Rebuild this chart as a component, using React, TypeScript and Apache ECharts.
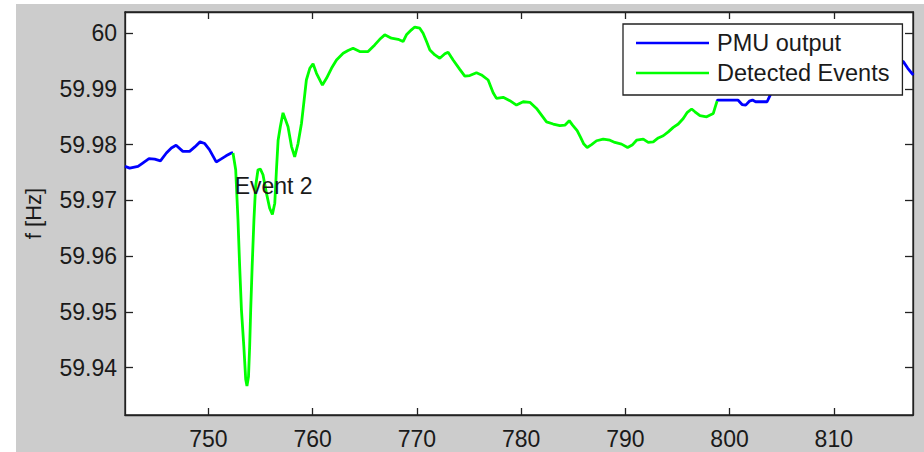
import React, { useEffect, useRef } from "react";
import * as echarts from "echarts";

// time [s]
const times = [
  742.0, 742.45, 743.25, 743.7, 744.3, 744.85, 745.4, 745.97, 746.45, 746.9,
  747.55, 748.2, 748.7, 749.2, 749.65, 750.1, 750.75, 751.2, 751.7, 752.2,
  752.36, 752.62, 752.84, 753.0, 753.17, 753.4, 753.58, 753.7, 753.85, 753.96,
  754.06, 754.2, 754.37, 754.53, 754.76, 754.99, 755.24, 755.57, 755.88, 756.14,
  756.37, 756.53, 756.69, 756.9, 757.16, 757.64, 757.97, 758.28, 758.6, 758.93,
  759.15, 759.4, 759.73, 760.04, 760.37, 760.94, 761.33, 761.81, 762.29, 762.93,
  763.4, 763.88, 764.52, 765.32, 765.96, 766.44, 766.92, 767.56, 768.2, 768.68,
  769.0, 769.48, 769.8, 770.28, 770.6, 770.93, 771.25, 771.73, 772.2, 772.69,
  773.0, 773.48, 774.12, 774.6, 775.08, 775.72, 776.2, 776.84, 777.32, 777.64,
  778.28, 778.92, 779.56, 780.2, 780.84, 781.48, 781.96, 782.44, 783.08, 783.72,
  784.2, 784.62, 784.94, 785.38, 785.71, 786.02, 786.34, 786.76, 787.24, 787.88,
  788.52, 789.0, 789.64, 790.22, 790.7, 791.08, 791.72, 792.2, 792.68, 793.16,
  793.64, 794.12, 794.6, 795.08, 795.56, 795.95, 796.36, 796.68, 797.16, 797.8,
  798.44, 798.6, 798.8, 798.85, 800.8, 801.2, 801.55, 801.9, 802.2, 802.5,
  803.6, 803.8, 804.0, 805.0, 806.0, 807.0, 808.0, 809.0, 810.0, 811.0,
  812.0, 813.0, 814.0, 815.0, 816.0, 816.67, 817.1, 817.63,
];

// frequency [Hz]
const freqs = [
  59.9761, 59.9758, 59.9761, 59.9767, 59.9775, 59.9774, 59.9771, 59.9785, 59.9794, 59.9799,
  59.9788, 59.9788, 59.9796, 59.9805, 59.9802, 59.9791, 59.9769, 59.9774, 59.978, 59.9785,
  59.9785, 59.9755, 59.9665, 59.9582, 59.9504, 59.9438, 59.9379, 59.9367, 59.9384, 59.9438,
  59.9504, 59.9582, 59.9665, 59.9725, 59.9755, 59.9756, 59.9746, 59.9713, 59.9686, 59.9675,
  59.9695, 59.9755, 59.9808, 59.9832, 59.9857, 59.9832, 59.9797, 59.9778, 59.9802, 59.9838,
  59.9874, 59.9916, 59.9937, 59.9945, 59.9928, 59.9907, 59.9919, 59.9937, 59.9952, 59.9964,
  59.9969, 59.9973, 59.9967, 59.9967, 59.9979, 59.9989, 59.9997, 59.9991, 59.9989, 59.9985,
  59.9997, 60.0006, 60.0011, 60.0009, 60.0, 59.9985, 59.997, 59.9961, 59.9955, 59.9963,
  59.9966, 59.9952, 59.9935, 59.9923, 59.9924, 59.9929, 59.9925, 59.9916, 59.9893, 59.9883,
  59.9885, 59.9879, 59.9871, 59.9877, 59.9876, 59.9865, 59.9853, 59.9841, 59.9837, 59.9834,
  59.9835, 59.9843, 59.9835, 59.9825, 59.9813, 59.9801, 59.9795, 59.98, 59.9807, 59.981,
  59.9808, 59.9804, 59.9801, 59.9795, 59.98, 59.9808, 59.981, 59.9804, 59.9805, 59.9812,
  59.9816, 59.9823, 59.9831, 59.9837, 59.9847, 59.9858, 59.9864, 59.9859, 59.9852, 59.985,
  59.9856, 59.9866, 59.9878, 59.988, 59.988, 59.9872, 59.9871, 59.9878, 59.988, 59.9877,
  59.9877, 59.9885, 59.9893, 59.9905, 59.9912, 59.9921, 59.9928, 59.9926, 59.9934, 59.9941,
  59.9939, 59.9947, 59.9954, 59.9958, 59.9956, 59.9949, 59.9937, 59.9925,
];

const eventStart = 752.36;
const eventEnd = 798.8;
const xTicks = [750, 760, 770, 780, 790, 800, 810];
const yTicks = [59.94, 59.95, 59.96, 59.97, 59.98, 59.99, 60];
const seriesNames = ["PMU output", "Detected Events"];
const eventLabel = "Event 2";
const eventLabelAt = [752.52, 59.9726];

const FONT = "'Liberation Sans', Arial, sans-serif";
const TXT = "#1a1a1a";

export default function App() {
  const ref = useRef<HTMLDivElement>(null);
  useEffect(() => {
    document.body.style.margin = "0";
    if (!ref.current) return;
    const chart = echarts.init(ref.current, undefined, { renderer: "svg" });
    const pts = times.map((t, i) => [t, freqs[i]]);
    const before = pts.filter((p) => p[0] <= eventStart);
    const during = pts.filter((p) => p[0] >= eventStart && p[0] <= eventEnd);
    const after = pts.filter((p) => p[0] >= eventEnd);
    const fmt = (v: number) => String(parseFloat(Number(v).toFixed(2)));
    const lineBase = {
      type: "line",
      showSymbol: false,
      symbol: "none",
      xAxisIndex: 0,
      yAxisIndex: 0,
      animation: false,
    };
    chart.setOption({
      animation: false,
      backgroundColor: "transparent",
      grid: {
        left: 125,
        top: 12,
        width: 788,
        height: 403,
        show: true,
        backgroundColor: "#ffffff",
        borderColor: "#222",
        borderWidth: 1.3,
      },
      legend: {
        data: seriesNames,
        orient: "vertical",
        left: 623,
        top: 24,
        padding: [4, 13, 7, 13],
        itemGap: 0,
        itemWidth: 73,
        itemHeight: 2.6,
        icon: "rect",
        backgroundColor: "#ffffff",
        borderColor: "#222",
        borderWidth: 1.3,
        borderRadius: 0,
        selectedMode: false,
        textStyle: {
          fontFamily: FONT,
          fontSize: 23.5,
          color: TXT,
          lineHeight: 30,
          padding: [0, 0, 0, 3],
        },
      },
      xAxis: [
        {
          type: "value",
          min: 742,
          max: 817.6,
          position: "bottom",
          splitLine: { show: false },
          axisLine: { show: true, lineStyle: { color: "#222", width: 1.3 } },
          axisTick: {
            show: true,
            inside: true,
            length: 7,
            customValues: xTicks,
            lineStyle: { color: "#222", width: 1.3 },
          },
          axisLabel: {
            show: true,
            customValues: xTicks,
            formatter: fmt,
            fontFamily: FONT,
            fontSize: 23,
            color: TXT,
            margin: 12,
          },
        },
        {
          type: "value",
          min: 742,
          max: 817.6,
          position: "top",
          splitLine: { show: false },
          axisLine: { show: true, lineStyle: { color: "#222", width: 1.3 } },
          axisTick: {
            show: true,
            inside: true,
            length: 7,
            customValues: xTicks,
            lineStyle: { color: "#222", width: 1.3 },
          },
          axisLabel: { show: false },
        },
      ],
      yAxis: [
        {
          type: "value",
          min: 59.9315,
          max: 60.0038,
          position: "left",
          name: "f [Hz]",
          nameLocation: "middle",
          nameGap: 81,
          nameTextStyle: { fontFamily: FONT, fontSize: 22, color: TXT },
          splitLine: { show: false },
          axisLine: { show: true, lineStyle: { color: "#222", width: 1.3 } },
          axisTick: {
            show: true,
            inside: true,
            length: 8,
            customValues: yTicks,
            lineStyle: { color: "#222", width: 1.3 },
          },
          axisLabel: {
            show: true,
            customValues: yTicks,
            formatter: fmt,
            fontFamily: FONT,
            fontSize: 23,
            color: TXT,
            margin: 8,
          },
        },
        {
          type: "value",
          min: 59.9315,
          max: 60.0038,
          position: "right",
          splitLine: { show: false },
          axisLine: { show: true, lineStyle: { color: "#222", width: 1.3 } },
          axisTick: {
            show: true,
            inside: true,
            length: 8,
            customValues: yTicks,
            lineStyle: { color: "#222", width: 1.3 },
          },
          axisLabel: { show: false },
        },
      ],
      series: [
        {
          ...lineBase,
          name: seriesNames[0],
          data: before,
          color: "#0000ff",
          lineStyle: { color: "#0000ff", width: 2.8 },
          z: 2,
        },
        {
          ...lineBase,
          name: seriesNames[0],
          data: after,
          color: "#0000ff",
          lineStyle: { color: "#0000ff", width: 2.8 },
          z: 2,
        },
        {
          ...lineBase,
          name: seriesNames[1],
          data: during,
          color: "#00ff00",
          lineStyle: { color: "#00ff00", width: 2.8 },
          z: 3,
          markPoint: {
            symbol: "circle",
            symbolSize: 0,
            silent: true,
            data: [{ coord: eventLabelAt }],
            label: {
              show: true,
              position: "right",
              distance: 0,
              formatter: eventLabel,
              fontFamily: FONT,
              fontSize: 23,
              color: TXT,
            },
          },
        },
      ],
    });
    return () => chart.dispose();
  }, []);

  return (
    <div style={{ position: "absolute", left: 0, top: 0, width: 924, height: 452, background: "#ffffff" }}>
      <div style={{ position: "absolute", left: 16, top: 4, width: 908, height: 448, background: "#cccccc" }} />
      <div ref={ref} style={{ position: "absolute", left: 0, top: 0, width: 924, height: 452 }} />
    </div>
  );
}
